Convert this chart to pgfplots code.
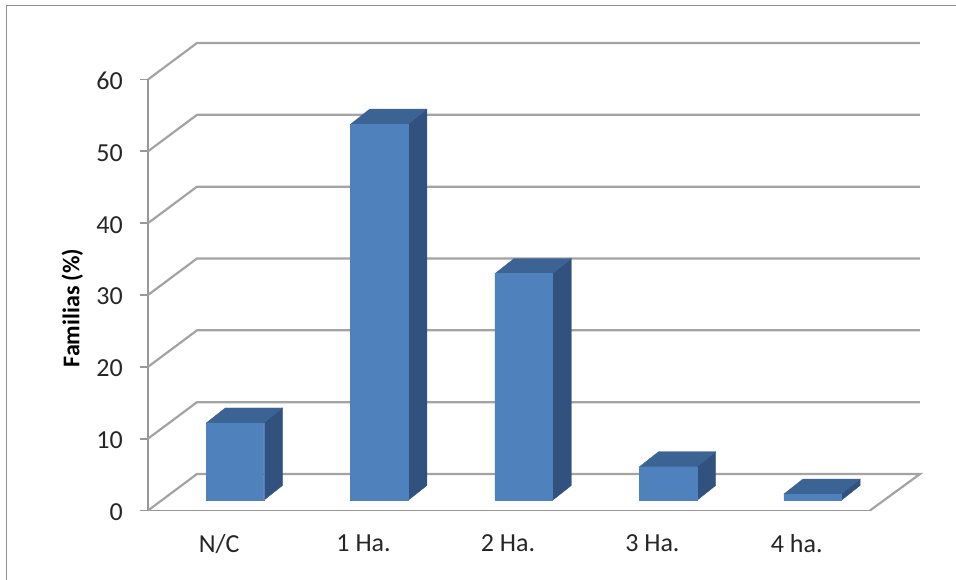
\documentclass[border=0pt]{standalone}
\usepackage{pgfplots}
\pgfplotsset{compat=1.18}
\usepackage{fontspec}
\setmainfont{Carlito}
\definecolor{gridc}{HTML}{A3A3A3}
\definecolor{framec}{HTML}{8E8E8E}
\definecolor{axc}{HTML}{989898}
\definecolor{frontc}{HTML}{4F81BD}
\definecolor{sidec}{HTML}{31527E}
\definecolor{topc}{HTML}{3B6393}
\definecolor{txtc}{HTML}{262626}
\begin{document}
\begin{tikzpicture}[x=1pt,y=1pt]
\path[use as bounding box] (0,0) rectangle (956,580);
\draw[framec,line width=1.3pt] (6.5,0) -- (6.5,574.5) -- (956,574.5);
\begin{axis}[
  at={(148pt,69.5pt)}, anchor=south west,
  scale only axis, width=722pt, height=431pt,
  xmin=-0.5, xmax=4.5, ymin=0, ymax=60,
  clip=false,
  axis x line*=bottom, axis y line*=left,
  axis line style={axc,line width=1.8pt,-},
  xtick={0,1,2,3,4},
  xticklabels={N/C,1 Ha.,2 Ha.,3 Ha.,4 ha.},
  ytick={0,10,20,30,40,50,60},
  /pgf/number format/assume math mode=true,
  tick align=outside,
  major tick length=8pt,
  xtick style={draw=none},
  ytick style={axc,line width=1.8pt},
  yticklabel style={font=\fontsize{26}{30}\selectfont,text=txtc,inner sep=0pt,xshift=-17pt,yshift=-1.5pt},
  xticklabel style={font=\fontsize{26}{30}\selectfont,text=txtc,inner sep=0pt,yshift=-16pt,xshift=-1pt},
  ylabel={\textbf{Familias (\%)}},
  every axis y label/.style={at={(rel axis cs:-0.105,0.47)},rotate=90,anchor=center,font=\fontsize{24}{28}\selectfont,text=black},
]
% walls and floor
\addplot[gridc,line width=2.2pt,line join=miter] coordinates {(-0.5,0) (-0.1607,5.08) (4.846,5.08) (4.5,0)};
\addplot[gridc,line width=2.2pt] coordinates {(-0.5,10) (-0.1607,15.08) (4.846,15.08)};
\addplot[gridc,line width=2.2pt] coordinates {(-0.5,20) (-0.1607,25.08) (4.846,25.08)};
\addplot[gridc,line width=2.2pt] coordinates {(-0.5,30) (-0.1607,35.08) (4.846,35.08)};
\addplot[gridc,line width=2.2pt] coordinates {(-0.5,40) (-0.1607,45.08) (4.846,45.08)};
\addplot[gridc,line width=2.2pt] coordinates {(-0.5,50) (-0.1607,55.08) (4.846,55.08)};
\addplot[gridc,line width=2.2pt] coordinates {(-0.5,60) (-0.1607,65.08) (4.846,65.08)};
% side faces
\addplot[fill=sidec,draw=sidec,line width=0.3pt] coordinates {(0.300,1.39) (0.4316,3.48) (0.4316,14.28) (0.300,12.19)} -- cycle;
\addplot[fill=sidec,draw=sidec,line width=0.3pt] coordinates {(1.300,1.39) (1.4316,3.48) (1.4316,55.88) (1.300,53.79)} -- cycle;
\addplot[fill=sidec,draw=sidec,line width=0.3pt] coordinates {(2.300,1.39) (2.4316,3.48) (2.4316,35.08) (2.300,32.99)} -- cycle;
\addplot[fill=sidec,draw=sidec,line width=0.3pt] coordinates {(3.300,1.39) (3.4316,3.48) (3.4316,8.18) (3.300,6.09)} -- cycle;
\addplot[fill=sidec,draw=sidec,line width=0.3pt] coordinates {(4.300,1.39) (4.4316,3.48) (4.4316,4.38) (4.300,2.29)} -- cycle;
% top faces
\addplot[fill=topc,draw=topc,line width=0.3pt] coordinates {(-0.0965,12.19) (0.0351,14.28) (0.4316,14.28) (0.300,12.19)} -- cycle;
\addplot[fill=topc,draw=topc,line width=0.3pt] coordinates {(0.9035,53.79) (1.0351,55.88) (1.4316,55.88) (1.300,53.79)} -- cycle;
\addplot[fill=topc,draw=topc,line width=0.3pt] coordinates {(1.9035,32.99) (2.0351,35.08) (2.4316,35.08) (2.300,32.99)} -- cycle;
\addplot[fill=topc,draw=topc,line width=0.3pt] coordinates {(2.9035,6.09) (3.0351,8.18) (3.4316,8.18) (3.300,6.09)} -- cycle;
\addplot[fill=topc,draw=topc,line width=0.3pt] coordinates {(3.9035,2.29) (4.0351,4.38) (4.4316,4.38) (4.300,2.29)} -- cycle;
% front faces
\addplot[ybar,bar width=57.5pt,bar shift=0pt,fill=frontc,draw=frontc,line width=0.3pt,xshift=14.7pt,yshift=10pt]
  coordinates {(0,10.8) (1,52.4) (2,31.6) (3,4.7) (4,0.9)};
\end{axis}
\end{tikzpicture}
\end{document}
